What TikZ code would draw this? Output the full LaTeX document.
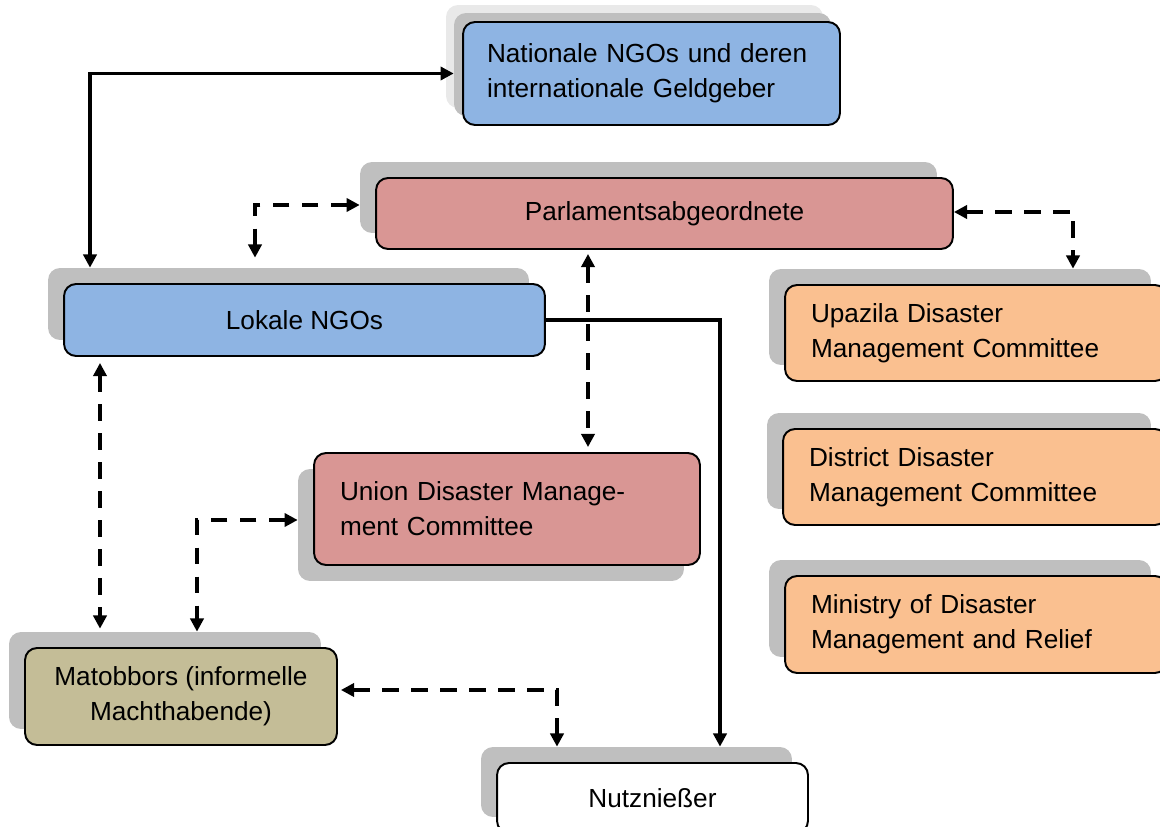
\documentclass[tikz,border=0pt]{standalone}
\usepackage{fontspec}
\setmainfont{Liberation Sans}
\usetikzlibrary{arrows.meta}

\definecolor{ngoblue}{HTML}{8EB4E3}
\definecolor{govred}{HTML}{D99694}
\definecolor{comorange}{HTML}{FAC090}
\definecolor{matkhaki}{HTML}{C4BD97}
\definecolor{shadegray}{HTML}{BFBFBF}
\definecolor{halogray}{HTML}{E9E9E9}

\tikzset{
  box/.style={draw=black, line width=1.1pt, rounded corners=0.24cm,
    inner xsep=0.52cm, inner ysep=0pt, font=\fontsize{14.9}{19.8}\selectfont},
  shadowbox/.style={fill=shadegray, rounded corners=0.24cm, inner sep=0pt},
  solidarrow/.style={line width=2pt},
  dasharrow/.style={line width=2pt, dash pattern=on 9.5pt off 7pt},
  >={Triangle[length=7.5pt,width=7.5pt]}
}

\begin{document}
\begin{tikzpicture}[x=0.02cm, y=-0.02cm]
\useasboundingbox (0,0) rectangle (1160,827);
\clip (0,0) rectangle (1160,827);

% shadows
\node[shadowbox, fill=halogray, minimum width=7.54cm, minimum height=2.06cm] (nathalo) at (634.5,56.5) {};
\node[shadowbox, minimum width=7.54cm, minimum height=2.06cm] (natsh) at (642.5,64.5) {};
\node[shadowbox, minimum width=11.54cm, minimum height=1.42cm] (parlsh) at (648.5,197.5) {};
\node[shadowbox, minimum width=9.62cm, minimum height=1.44cm] (loksh) at (288.5,304) {};
\node[shadowbox, minimum width=7.64cm, minimum height=1.92cm] (upash) at (960,317) {};
\node[shadowbox, minimum width=7.68cm, minimum height=1.92cm] (dissh) at (959,461) {};
\node[shadowbox, minimum width=7.64cm, minimum height=1.94cm] (minsh) at (960,608.5) {};
\node[shadowbox, minimum width=7.72cm, minimum height=2.24cm] (unish) at (491,525) {};
\node[shadowbox, minimum width=6.24cm, minimum height=1.94cm] (matsh) at (165,680.5) {};
\node[shadowbox, minimum width=6.22cm, minimum height=1.40cm] (nutsh) at (636.5,782) {};

% boxes
\node[box, fill=ngoblue, minimum width=7.54cm, minimum height=2.06cm,
  inner xsep=0.48cm, text width=6.58cm, align=left] (nat) at (651.5,73.5)
  {Nationale NGOs und deren\\internationale Geldgeber};
\node[box, fill=govred, minimum width=11.54cm, minimum height=1.42cm, align=center] (parl) at (664.5,213.5)
  {Parlamentsabgeordnete};
\node[box, fill=ngoblue, minimum width=9.62cm, minimum height=1.44cm, align=center] (lok) at (304.5,320)
  {Lokale NGOs};
\node[box, fill=comorange, minimum width=7.64cm, minimum height=1.92cm,
  text width=6.6cm, align=left] (upa) at (976,333)
  {Upazila Disaster\\Management Committee};
\node[box, fill=comorange, minimum width=7.68cm, minimum height=1.92cm,
  text width=6.64cm, align=left] (dis) at (975,477)
  {District Disaster\\Management Committee};
\node[box, fill=comorange, minimum width=7.64cm, minimum height=1.94cm,
  text width=6.6cm, align=left] (min) at (976,624.5)
  {Ministry of Disaster\\Management and Relief};
\node[box, fill=govred, minimum width=7.72cm, minimum height=2.24cm,
  text width=6.68cm, align=left] (uni) at (507,509)
  {Union Disaster Manage-\\ment Committee};
\node[box, fill=matkhaki, minimum width=6.24cm, minimum height=1.94cm, align=center] (mat) at (181,696.5)
  {Matobbors (informelle\\Machthabende)};
\node[box, fill=white, minimum width=6.22cm, minimum height=1.40cm, align=center] (nut) at (652.5,798)
  {Nutznie\ss er};

% connectors
\draw[solidarrow, <->] (nat.west -| natsh.west) -| (loksh.north -| 90,0);
\draw[solidarrow, ->] (lok.east) -| (nutsh.north -| 720,0);

\draw[dasharrow, <->, shorten >=0.2cm] (parlsh.west |- 0,205) -| (loksh.north -| 255,0);
\draw[dasharrow, <->, shorten <=0.08cm, shorten >=0.1cm] (parl.south -| 588,0) -- (uni.north -| 588,0);
\draw[dasharrow, <->] (parl.east |- 0,212) -| (upash.north -| 1073,0);
\draw[dasharrow, <->, shorten <=0.12cm, shorten >=0.06cm] (lok.south -| 100,0) -- (matsh.north -| 100,0);
\draw[dasharrow, <->] (unish.west |- 0,520) -| (matsh.north -| 197,0);
\draw[dasharrow, <->, shorten <=0.06cm] (mat.east |- 0,690) -| (nutsh.north -| 557,0);
\end{tikzpicture}
\end{document}
